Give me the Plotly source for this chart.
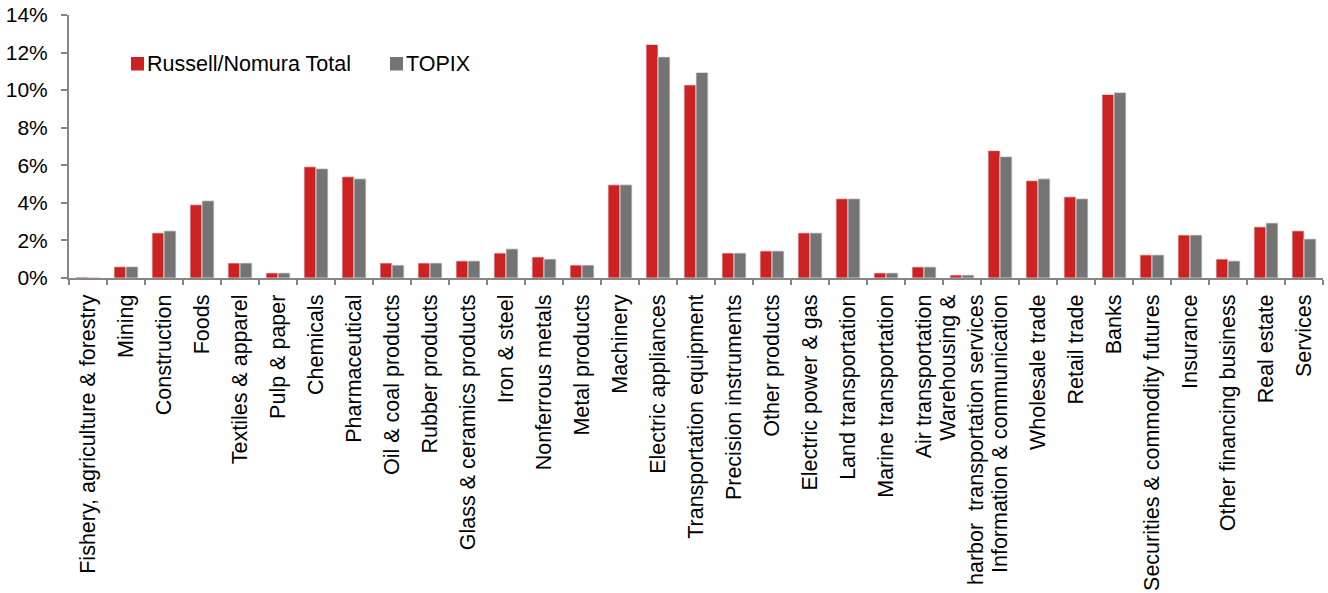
import plotly.graph_objects as go

# Sector names (33 TSE industry groups)
sectors = [
    "Fishery, agriculture & forestry", "Mining", "Construction", "Foods",
    "Textiles & apparel", "Pulp & paper", "Chemicals", "Pharmaceutical",
    "Oil & coal products", "Rubber products", "Glass & ceramics products",
    "Iron & steel", "Nonferrous metals", "Metal products", "Machinery",
    "Electric appliances", "Transportation equipment", "Precision instruments",
    "Other products", "Electric power & gas", "Land transportation",
    "Marine transportation", "Air transportation",
    "Warehousing &<br>harbor  transportation services",
    "Information & communication", "Wholesale trade", "Retail trade", "Banks",
    "Securities & commodity futures", "Insurance", "Other financing business",
    "Real estate", "Services",
]

# Sector weights, %
russell_nomura = [
    0.05, 0.60, 2.40, 3.90, 0.80, 0.27, 5.92, 5.39, 0.80, 0.80, 0.91,
    1.33, 1.12, 0.69, 4.96, 12.43, 10.28, 1.33, 1.44, 2.40, 4.22,
    0.27, 0.59, 0.16, 6.78, 5.18, 4.32, 9.77, 1.23, 2.29, 1.01,
    2.72, 2.51,
]
topix = [
    0.03, 0.60, 2.51, 4.11, 0.80, 0.27, 5.82, 5.28, 0.69, 0.80, 0.91,
    1.55, 1.01, 0.69, 4.96, 11.77, 10.94, 1.33, 1.44, 2.40, 4.22,
    0.27, 0.59, 0.16, 6.46, 5.28, 4.22, 9.87, 1.23, 2.29, 0.91,
    2.93, 2.08,
]

y_ticks = [0, 2, 4, 6, 8, 10, 12, 14]
y_labels = [f"{v}%" for v in y_ticks]

series_names = ["Russell/Nomura Total", "TOPIX"]
series_colors = ["#CC2222", "#747474"]

FONT = "Liberation Sans, Arial, sans-serif"
AXIS_COLOR = "#868686"
W, H = 1328, 593
M_L, M_R, M_T, M_B = 69, 5, 15, 315
PLOT_W = W - M_L - M_R
PLOT_H = H - M_T - M_B


def px_x(px):
    """Page pixel column -> paper x."""
    return (px - M_L) / PLOT_W


def px_y(py):
    """Page pixel row -> paper y."""
    return (H - M_B - py) / PLOT_H


fig = go.Figure()
for name, vals, col in zip(series_names, [russell_nomura, topix], series_colors):
    fig.add_trace(go.Bar(
        x=sectors, y=vals, name=name, showlegend=False,
        marker=dict(color=col, line=dict(color="#E6E6E6", width=0.8)),
    ))

# Legend: colour swatch + label for each series
legend_swatch_left = [131, 390]
shapes, annotations = [], []
for name, col, left in zip(series_names, series_colors, legend_swatch_left):
    shapes.append(dict(
        type="rect", xref="paper", yref="paper",
        x0=px_x(left), x1=px_x(left + 13), y0=px_y(70.5), y1=px_y(57),
        fillcolor=col, line=dict(width=0),
    ))
    annotations.append(dict(
        text=name, xref="paper", yref="paper",
        x=px_x(left + 15), y=px_y(64), xanchor="left", yanchor="middle",
        showarrow=False, borderpad=0,
        font=dict(size=21.5, family=FONT, color="black"),
    ))

fig.update_layout(
    width=W, height=H,
    margin=dict(l=M_L, r=M_R, t=M_T, b=M_B, autoexpand=False),
    paper_bgcolor="white", plot_bgcolor="white",
    font=dict(family=FONT, color="black", size=18),
    barmode="group", bargap=0.37, bargroupgap=0,
    showlegend=False,
    shapes=shapes, annotations=annotations,
)

fig.update_xaxes(
    type="category", tickangle=-90, tickson="boundaries", automargin=False,
    ticks="outside", ticklen=5, tickwidth=2, tickcolor=AXIS_COLOR,
    showline=True, linecolor=AXIS_COLOR, linewidth=2,
    showgrid=False, tickfont=dict(size=21.5, family=FONT),
    ticklabelstandoff=6,
)
fig.update_yaxes(
    range=[0, 14], tickvals=y_ticks, ticktext=y_labels, automargin=False,
    ticks="outside", ticklen=6, tickwidth=2, tickcolor=AXIS_COLOR,
    showline=True, linecolor=AXIS_COLOR, linewidth=2,
    showgrid=False, zeroline=False, tickfont=dict(size=21, family=FONT),
    ticklabelstandoff=9,
)

fig.write_html("out.html")
